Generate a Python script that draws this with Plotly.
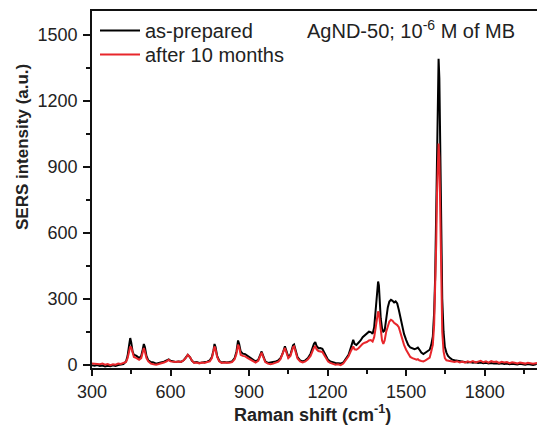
import plotly.graph_objects as go

raman_shift = [
    300, 310, 320, 330, 340, 350, 360, 370, 380, 390, 400, 410, 420, 430, 436, 442, 446, 450, 455, 460,
    470, 480, 488, 494, 498, 502, 508, 515, 525, 535, 545, 555, 565, 575, 585, 593, 600, 610, 620, 630,
    640, 650, 658, 666, 674, 682, 690, 700, 710, 720, 730, 740, 750, 758, 764, 768, 772, 778, 786, 795,
    805, 815, 825, 835, 845, 852, 858, 862, 868, 876, 885, 895, 905, 915, 925, 935, 942, 948, 954, 962,
    972, 982, 992, 1002, 1012, 1020, 1028, 1033, 1037, 1042, 1050, 1058, 1064, 1068, 1072, 1077, 1085, 1095, 1105, 1115,
    1125, 1135, 1142, 1148, 1153, 1158, 1165, 1172, 1180, 1188, 1195, 1202, 1210, 1220, 1230, 1240, 1250, 1260, 1270, 1280,
    1288, 1294, 1298, 1303, 1310, 1318, 1326, 1334, 1342, 1350, 1358, 1365, 1372, 1378, 1384, 1389, 1393, 1396, 1399, 1403,
    1408, 1413, 1418, 1424, 1430, 1436, 1442, 1448, 1454, 1460, 1466, 1472, 1478, 1485, 1492, 1500, 1508, 1516, 1524, 1532,
    1540, 1545, 1550, 1558, 1566, 1574, 1582, 1590, 1596, 1602, 1607, 1611, 1615, 1618, 1621, 1624, 1627, 1630, 1634, 1638,
    1643, 1648, 1654, 1660, 1668, 1676, 1685, 1695, 1705, 1715, 1725, 1735, 1745, 1755, 1765, 1775, 1785, 1795, 1805, 1815,
    1825, 1835, 1845, 1855, 1865, 1875, 1885, 1895, 1905, 1915, 1925, 1935, 1945, 1955, 1965, 1975, 1985, 1995, 2000,
]

as_prepared = [
    -3, -5, -2, -6, -4, -8, -5, -7, -3, -6, -2, 0, 3, 15, 40, 90, 121, 100, 60, 45,
    40, 30, 40, 70, 94, 80, 40, 20, 12, 10, 5, 8, 10, 14, 20, 24, 18, 14, 12, 15,
    13, 20, 32, 45, 35, 18, 10, 12, 8, 10, 12, 14, 20, 35, 65, 94, 80, 40, 18, 10,
    12, 10, 12, 15, 30, 60, 110, 95, 60, 50, 48, 40, 30, 20, 15, 22, 40, 60, 40, 15,
    8, 10, 12, 15, 20, 30, 50, 70, 83, 65, 35, 45, 70, 88, 92, 70, 35, 20, 15, 20,
    30, 50, 75, 95, 103, 85, 75, 76, 72, 55, 35, 22, 15, 10, 8, 7, 5, 10, 25, 45,
    75, 100, 113, 95, 90, 100, 110, 125, 135, 140, 150, 148, 140, 170, 240, 330, 378, 360, 290, 210,
    165, 150, 155, 210, 260, 287, 295, 290, 283, 288, 278, 250, 215, 175, 140, 113, 90, 78, 72, 70,
    74, 78, 70, 55, 48, 55, 62, 68, 90, 128, 236, 400, 700, 1000, 1280, 1390, 1300, 1000, 600, 300,
    150, 80, 55, 40, 30, 23, 20, 18, 15, 13, 14, 10, 12, 9, 11, 8, 10, 7, 9, 6,
    8, 5, 7, 4, 6, 3, 5, 2, 4, 3, 1, 4, 2, 0, 3, 1, -1, 2, 6,
]

after_10_months = [
    5, 4, 6, 2, 5, 0, 3, -2, 2, 0, 5, 3, 8, 12, 30, 65, 83, 78, 50, 35,
    30, 22, 30, 55, 76, 60, 30, 15, 5, 2, 0, 3, 5, 10, 15, 22, 15, 12, 12, 14,
    12, 20, 30, 45, 35, 18, 8, 10, 6, 10, 8, 12, 15, 30, 55, 83, 70, 35, 15, 8,
    10, 8, 9, 12, 25, 50, 91, 80, 45, 40, 38, 30, 22, 14, 10, 18, 35, 55, 35, 12,
    5, 2, 5, 8, 14, 25, 45, 65, 76, 55, 30, 40, 65, 80, 83, 60, 28, 15, 10, 15,
    25, 40, 60, 78, 83, 70, 62, 60, 58, 42, 25, 14, 8, 3, 0, 2, -2, 5, 20, 38,
    60, 78, 83, 70, 68, 75, 85, 95, 100, 103, 110, 112, 105, 125, 170, 215, 242, 235, 200, 150,
    110, 95, 110, 150, 180, 196, 204, 200, 190, 185, 180, 170, 145, 113, 90, 68, 48, 35, 30, 25,
    23, 25, 20, 17, 15, 20, 25, 32, 60, 90, 180, 320, 550, 780, 950, 1005, 940, 700, 380, 150,
    60, 30, 20, 18, 15, 14, 12, 15, 10, 14, 9, 15, 11, 16, 10, 14, 18, 11, 15, 9,
    16, 12, 14, 8, 13, 10, 12, 7, 11, 9, 6, 10, 8, 5, 9, 6, 4, 7, 8,
]

x_ticks = [300, 600, 900, 1200, 1500, 1800]
y_ticks = [0, 300, 600, 900, 1200, 1500]

font_family = "Liberation Sans, Arial, sans-serif"
text_color = "#222222"
axis_color = "#111111"

fig = go.Figure()
fig.add_trace(go.Scatter(
    x=raman_shift, y=as_prepared, mode="lines", name="as-prepared",
    line=dict(color="#000000", width=2), legend="legend",
))
fig.add_trace(go.Scatter(
    x=raman_shift, y=after_10_months, mode="lines", name="after 10 months",
    line=dict(color="#e8262b", width=2), legend="legend2",
))

L, R, T, B = 92, 0, 11, 59
W, H = 537, 427
pw = W - L - R
ph = H - T - B


def px_x(p):
    return (p - L) / pw


def px_y(p):
    return 1 - (p - T) / ph


legend_common = dict(
    xanchor="left", yanchor="top", bgcolor="rgba(0,0,0,0)", borderwidth=0,
    font=dict(size=20, color=text_color), itemwidth=40,
)

fig.update_layout(
    width=W, height=H,
    margin=dict(l=L, r=R, t=T, b=B, autoexpand=False),
    paper_bgcolor="white", plot_bgcolor="white",
    font=dict(family=font_family, size=18, color=text_color),
    showlegend=True,
    legend=dict(x=px_x(95), y=px_y(11), **legend_common),
    legend2=dict(x=px_x(95), y=px_y(35), **legend_common),
)

fig.add_annotation(
    text="AgND-50; 10<sup>-6</sup> M of MB", x=px_x(305), y=px_y(29),
    xref="paper", yref="paper", showarrow=False, xanchor="left", yanchor="middle",
    font=dict(size=20, color=text_color),
)
fig.add_annotation(
    text="<b>SERS intensity (a.u.)</b>", textangle=-90,
    x=px_x(22), y=px_y(147), xref="paper", yref="paper",
    showarrow=False, xanchor="center", yanchor="middle", font=dict(size=17, color=text_color),
)
fig.add_annotation(
    text="<b>Raman shift (cm<sup>-1</sup>)</b>",
    x=px_x(312), y=px_y(413), xref="paper", yref="paper",
    showarrow=False, xanchor="center", yanchor="middle", font=dict(size=18, color=text_color),
)

fig.update_xaxes(
    range=[300, 2000], tickvals=x_ticks, ticktext=[str(v) for v in x_ticks],
    ticks="outside", ticklen=6, tickwidth=1.5, tickcolor=axis_color,
    minor=dict(dtick=150, tick0=300, ticks="outside", ticklen=4, tickwidth=1.5, tickcolor=axis_color),
    showline=True, linecolor=axis_color, linewidth=1.8, mirror=True,
    showgrid=False, zeroline=False, tickfont=dict(size=18, color=text_color),
)
fig.update_yaxes(
    range=[-15, 1607], tickvals=y_ticks, ticktext=[str(v) for v in y_ticks],
    ticks="outside", ticklen=7, tickwidth=1.5, tickcolor=axis_color,
    minor=dict(dtick=150, tick0=0, ticks="outside", ticklen=4, tickwidth=1.5, tickcolor=axis_color),
    showline=True, linecolor=axis_color, linewidth=1.8, mirror=False,
    showgrid=False, zeroline=False, tickfont=dict(size=18, color=text_color),
    ticklabelstandoff=2,
)

fig.write_html(
    "out.html",
    config={"displayModeBar": False},
    post_script="document.body.style.margin='0';document.body.style.overflow='hidden';",
)
